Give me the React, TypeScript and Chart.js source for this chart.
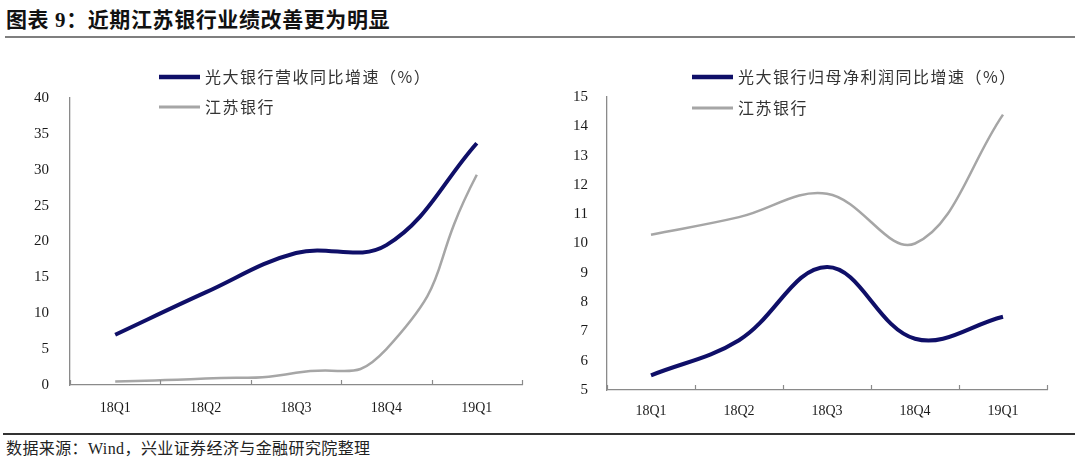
import React, { useEffect, useRef } from "react";
import { Chart, registerables } from "chart.js";

Chart.register(...registerables);

const categories = ["18Q1", "18Q2", "18Q3", "18Q4", "19Q1"];
const revenueEverbright = [7.0, 12.9, 18.4, 19.5, 33.7];
const revenueJiangsu = [0.5, 0.9, 1.7, 5.0, 29.3];
const profitEverbright = [5.5, 6.7, 9.2, 6.75, 7.5];
const profitJiangsu = [10.3, 10.9, 11.7, 10.0, 14.4];
const leftSeriesLabels = ["光大银行营收同比增速（%）", "江苏银行"];
const rightSeriesLabels = ["光大银行归母净利润同比增速（%）", "江苏银行"];
const leftYTicks = { min: 0, max: 40, step: 5 };
const rightYTicks = { min: 5, max: 15, step: 1 };
const titleText = "图表 9：近期江苏银行业绩改善更为明显";
const sourceText = "数据来源：Wind，兴业证券经济与金融研究院整理";

const NAVY = "#0f0f68";
const GREY = "#a6a6a6";
const AXIS = "#8a8a8a";
const SERIF = '"Liberation Serif", "Times New Roman", serif';
const CJK = '"Noto Sans CJK SC", sans-serif';

type Panel = {
  series: number[][];
  labels: string[];
  tensions: number[];
  y: { min: number; max: number; step: number };
  yAxisWidth: number;
  xAxisHeight: number;
  padRight: number;
  padTop: number;
  yLabelPad: number;
  xLabelPad: number;
  legendX: number;
  legendRows: number[];
};

const leftPanel: Panel = {
  series: [revenueEverbright, revenueJiangsu],
  labels: leftSeriesLabels,
  tensions: [0.38, 0.58],
  y: leftYTicks,
  yAxisWidth: 70,
  xAxisHeight: 45,
  padRight: 18,
  padTop: 58,
  yLabelPad: 21,
  xLabelPad: 14.5,
  legendX: 159,
  legendRows: [37, 67],
};

const rightPanel: Panel = {
  series: [profitEverbright, profitJiangsu],
  labels: rightSeriesLabels,
  tensions: [0.38, 0.38],
  y: rightYTicks,
  yAxisWidth: 67,
  xAxisHeight: 40,
  padRight: 33,
  padTop: 57,
  yLabelPad: 19,
  xLabelPad: 12.5,
  legendX: 152,
  legendRows: [37, 68],
};

function makePlugins(panel: Panel) {
  return [
    {
      id: "innerTicks",
      afterDraw(chart: any) {
        const xs = chart.scales.x;
        const bottom = chart.chartArea.bottom;
        const ctx = chart.ctx;
        ctx.save();
        ctx.strokeStyle = AXIS;
        ctx.lineWidth = 1.2;
        for (let i = 0; i <= categories.length; i++) {
          const x = Math.round(xs.getPixelForValue(i - 0.5)) + 0.5;
          ctx.beginPath();
          ctx.moveTo(x, bottom);
          ctx.lineTo(x, bottom - 5);
          ctx.stroke();
        }
        ctx.restore();
      },
    },
    {
      id: "lineLegend",
      afterDraw(chart: any) {
        const ctx = chart.ctx;
        ctx.save();
        chart.data.datasets.forEach((ds: any, i: number) => {
          const y = panel.legendRows[i];
          const x0 = panel.legendX;
          ctx.strokeStyle = ds.borderColor;
          ctx.lineWidth = i === 0 ? 4.5 : 3;
          ctx.lineCap = "butt";
          ctx.beginPath();
          ctx.moveTo(x0, y);
          ctx.lineTo(x0 + 41, y);
          ctx.stroke();
          ctx.fillStyle = "#333";
          ctx.font = `16px ${CJK}`;
          (ctx as any).letterSpacing = "1.5px";
          ctx.textBaseline = "middle";
          ctx.textAlign = "left";
          ctx.fillText(ds.label, x0 + 46, y);
        });
        ctx.restore();
      },
    },
  ];
}

function ChartPanel({ panel, left }: { panel: Panel; left: number }) {
  const ref = useRef<HTMLCanvasElement | null>(null);
  useEffect(() => {
    const canvas = ref.current;
    if (!canvas) return;
    const chart = new Chart(canvas, {
      type: "line",
      data: {
        labels: categories,
        datasets: panel.series.map((values, i) => ({
          label: panel.labels[i],
          data: values,
          borderColor: i === 0 ? NAVY : GREY,
          backgroundColor: i === 0 ? NAVY : GREY,
          borderWidth: i === 0 ? 4 : 2.5,
          pointRadius: 0,
          pointHoverRadius: 0,
          tension: panel.tensions[i],
          fill: false,
          order: i === 0 ? 0 : 1,
        })),
      },
      options: {
        animation: false,
        responsive: false,
        devicePixelRatio: 1,
        layout: { padding: { left: 0, right: panel.padRight, top: panel.padTop, bottom: 0 } },
        plugins: { legend: { display: false }, tooltip: { enabled: false } },
        scales: {
          x: {
            type: "category",
            offset: true,
            grid: { display: false, drawTicks: false },
            border: { display: true, color: AXIS, width: 1.3 },
            ticks: {
              padding: panel.xLabelPad,
              color: "#1a1a1a",
              font: { family: SERIF, size: 14 },
              maxRotation: 0,
              autoSkip: false,
            },
            afterFit(scale: any) {
              scale.height = panel.xAxisHeight;
            },
          },
          y: {
            min: panel.y.min,
            max: panel.y.max,
            grid: { display: false, drawTicks: false },
            border: { display: true, color: AXIS, width: 1.3 },
            ticks: {
              stepSize: panel.y.step,
              padding: panel.yLabelPad,
              color: "#1a1a1a",
              font: { family: SERIF, size: 15 },
            },
            afterFit(scale: any) {
              scale.width = panel.yAxisWidth;
            },
          },
        },
      },
      plugins: makePlugins(panel) as any,
    });
    return () => chart.destroy();
  }, [panel]);
  return (
    <canvas
      ref={ref}
      width={540}
      height={390}
      style={{ position: "absolute", left, top: 40, width: 540, height: 390 }}
    />
  );
}

export default function App() {
  useEffect(() => {
    document.body.style.margin = "0";
    document.body.style.background = "#fff";
  }, []);
  return (
    <div style={{ position: "relative", width: 1080, height: 465, overflow: "hidden", background: "#fff" }}>
      <div
        style={{
          position: "absolute",
          left: 6,
          top: 8,
          fontFamily: `"Liberation Serif", ${CJK}`,
          fontWeight: 700,
          fontSize: 21,
          lineHeight: "24px",
          letterSpacing: "0.6px",
          color: "#111",
          whiteSpace: "nowrap",
        }}
      >
        {titleText}
      </div>
      <div style={{ position: "absolute", left: 5, top: 36, width: 1070, height: 2, background: "#7f7f7f" }} />
      <ChartPanel panel={leftPanel} left={0} />
      <ChartPanel panel={rightPanel} left={540} />
      <div style={{ position: "absolute", left: 3, top: 433, width: 1072, height: 1.5, background: "#333" }} />
      <div
        style={{
          position: "absolute",
          left: 6,
          top: 439,
          fontFamily: `"Liberation Serif", ${CJK}`,
          fontSize: 16,
          lineHeight: "20px",
          letterSpacing: "0.4px",
          color: "#222",
          whiteSpace: "nowrap",
        }}
      >
        {sourceText}
      </div>
    </div>
  );
}
